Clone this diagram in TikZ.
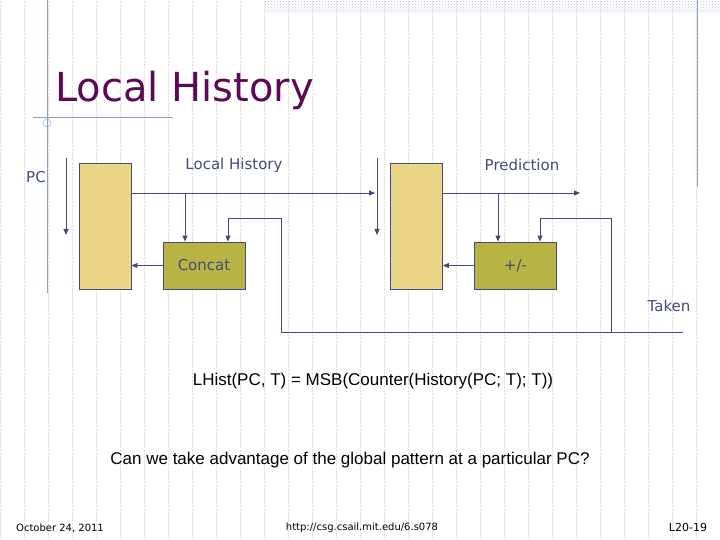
\documentclass[tikz,border=0pt]{standalone}
\usepackage{fontspec}
\setmainfont{DejaVu Sans}
\newfontfamily\arialfont{Liberation Sans}
\usetikzlibrary{arrows.meta, positioning, patterns}
\definecolor{wire}{HTML}{444A7A}
\definecolor{memfill}{HTML}{EBD687}
\definecolor{logicfill}{HTML}{B7B443}
\definecolor{titlepurple}{HTML}{5C0A58}
\definecolor{deco}{HTML}{8A9CC8}
\tikzstyle{memory} = [rectangle, draw=wire, thick, fill=memfill, minimum width=52pt, minimum height=126pt, inner sep=0pt]
\tikzstyle{logic} = [rectangle, draw=wire, thick, fill=logicfill, minimum width=82pt, minimum height=47pt, inner sep=0pt, font=\fontsize{15}{18}\selectfont, text=wire]
\tikzstyle{label} = [font=\fontsize{15}{18}\selectfont, text=wire, inner sep=0pt]
\tikzstyle{arrow} = [thick, draw=wire, -{Triangle[length=6pt,width=5pt]}]
\tikzstyle{line} = [thick, draw=wire]

\begin{document}
\begin{tikzpicture}[x=1pt, y=-1pt]
\useasboundingbox (0,0) rectangle (720,540);
% background
\draw[black!12, densely dotted] (0,0) grid[step=24] (720,540);
\fill[pattern=crosshatch dots, pattern color=deco!60] (265,0) rectangle (720,13);
\draw[deco] (47,0) -- (47,293);
\draw[deco] (697,0) -- (697,187);
\draw[deco] (33,117) -- (173,117);
\draw[deco] (47,123) circle (4);

\node (title) [font=\fontsize{40}{44}\selectfont, text=titlepurple, anchor=base west, inner sep=0pt] at (55,102) {Local History};

% blocks
\node (lhist) [memory] at (105,226) {};
\node (concat) [logic] at (204,265.5) {Concat};
\node (ctable) [memory] at (416.5,226) {};
\node (update) [logic] at (515.5,265.5) {+/-};

\node (pc) [label] at (36,177) {PC};
\node (lhlabel) [label] at (234,165) {Local History};
\node (predlabel) [label] at (522,165) {Prediction};
\node (taken) [label] at (669,306) {Taken};

\coordinate (pctop) at (66,158);
\coordinate (pcbot) at (66,235);
\coordinate (idxtop) at (377,158);
\coordinate (idxbot) at (377,235);
\coordinate (hout) at (375,193);
\coordinate (pout) at (580,193);
\coordinate (hsplit) at (185,193);
\coordinate (psplit) at (498,193);
\coordinate (cfb) at (228,218);
\coordinate (ufb) at (540,218);
\coordinate (tstart) at (281,332);
\coordinate (tmid) at (611,332);
\coordinate (tend) at (683,332);

\draw [arrow] (pctop) -- (pcbot);
\draw [arrow] (idxtop) -- (idxbot);
\draw [arrow] (lhist.east |- hout) -- (hout);
\draw [arrow] (ctable.east |- pout) -- (pout);
\draw [arrow] (hsplit) -- (hsplit |- concat.north);
\draw [arrow] (psplit) -- (psplit |- update.north);
\draw [arrow] (concat.west) -- (concat.west -| lhist.east);
\draw [arrow] (update.west) -- (update.west -| ctable.east);
\draw [line] (tstart) -- (tend);
\draw [arrow] (tstart) -- (tstart |- cfb) -- (cfb) -- (cfb |- concat.north);
\draw [arrow] (tmid) -- (tmid |- ufb) -- (ufb) -- (ufb |- update.north);

% text
\node (eqn) [font=\arialfont\fontsize{17}{20}\selectfont, inner sep=0pt] at (373,381) {LHist(PC, T) = MSB(Counter(History(PC; T); T))};
\node (question) [font=\arialfont\fontsize{17}{20}\selectfont, inner sep=0pt] at (350,460) {Can we take advantage of the global pattern at a particular PC?};
\node (date) [font=\fontsize{10}{12}\selectfont, inner sep=0pt] at (60,528) {October 24, 2011};
\node (url) [font=\fontsize{10}{12}\selectfont, inner sep=0pt] at (362,528) {http://csg.csail.mit.edu/6.s078};
\node (slide) [font=\fontsize{11}{13}\selectfont, inner sep=0pt] at (688,527) {L20-19};
\end{tikzpicture}
\end{document}
